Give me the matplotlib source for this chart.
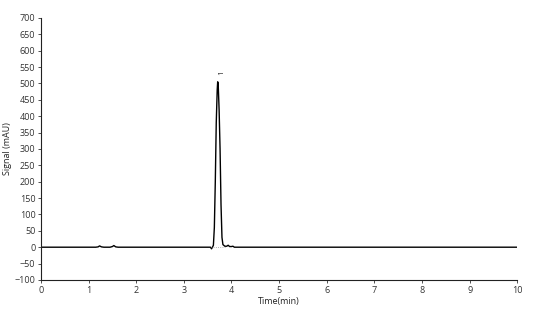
import matplotlib.pyplot as plt

# chromatogram trace (min, mAU)
time_min = [0.0, 1.15, 1.20, 1.23, 1.27, 1.32, 1.45, 1.50, 1.53, 1.57, 1.62,
            3.50, 3.56, 3.58, 3.60, 3.62, 3.64, 3.66, 3.68, 3.70, 3.71, 3.72,
            3.74, 3.76, 3.78, 3.80, 3.82, 3.86, 3.90, 3.93, 3.96, 4.00, 4.03,
            4.06, 4.2, 10.0]
signal_mau = [0, 0, 1, 4, 1, 0, 0, 2, 5, 1, 0,
              0, 0, -5, 0, 6, 60, 200, 380, 480, 505, 500,
              420, 300, 130, 30, 8, 3, 3, 6, 2, 2, 3,
              0, 0, 0]

peak_labels = ["1"]
peak_times = [3.72]
peak_heights = [505]

x_ticks = list(range(0, 11))
y_ticks = list(range(-100, 701, 50))

plt.rcParams['font.family'] = ['Open Sans', 'DejaVu Sans']

fig = plt.figure(figsize=(5.5, 3.09), dpi=100)
ax = fig.add_axes([0.0745, 0.094, 0.866, 0.848])

ax.plot(time_min, signal_mau, color='black', lw=1.0)
# integration baseline under the peak
ax.plot([3.58, 3.86], [0, 0], color='#999999', lw=0.6, ls=':')

for lab, t, h in zip(peak_labels, peak_times, peak_heights):
    ax.text(t + 0.07, h + 22, lab, rotation=90, fontsize=6,
            ha='center', va='bottom', color='#333333')

ax.set_xlim(0, 10)
ax.set_ylim(-100, 700)
ax.set_xticks(x_ticks)
ax.set_yticks(y_ticks)
ax.tick_params(labelsize=6.5, length=2.5, width=0.6, colors='#333333', pad=1.5)
for s in ['top', 'right']:
    ax.spines[s].set_visible(False)
for s in ['left', 'bottom']:
    ax.spines[s].set_linewidth(0.8)
    ax.spines[s].set_color('#222222')

ax.set_xlabel("Time(min)", fontsize=6.5, labelpad=2, color='#222222')
ax.set_ylabel("Signal (mAU)", fontsize=6.5, labelpad=2, color='#222222')

fig.savefig("out.png", dpi=100)
